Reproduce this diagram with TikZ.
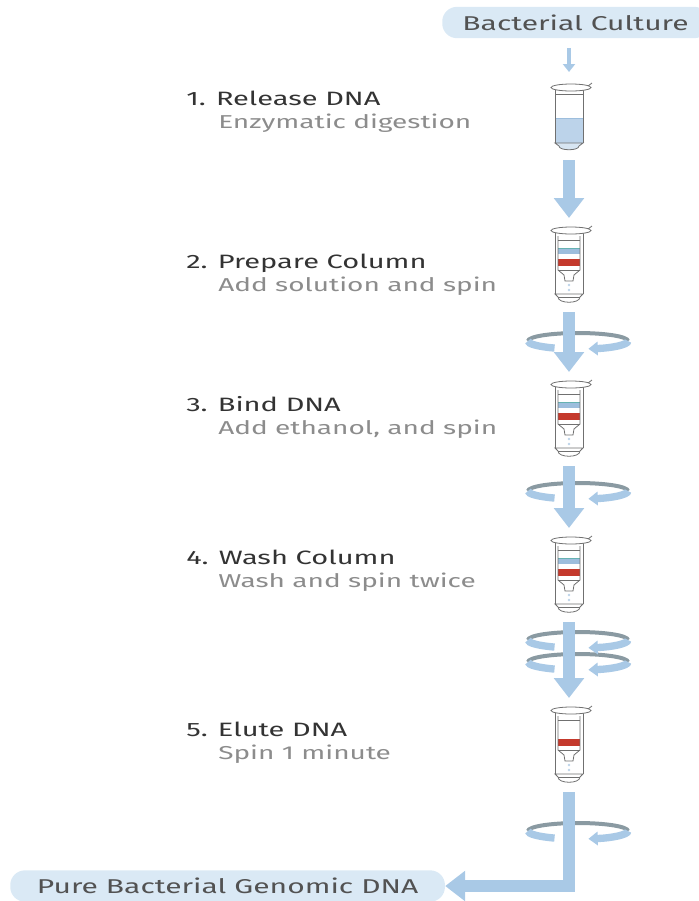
\documentclass[tikz,border=0pt]{standalone}
\usepackage{fontspec}
\setmainfont{Fira Sans}[FakeStretch=1.5]
\usepackage{tikz}
\usetikzlibrary{arrows.meta,positioning,calc}
\definecolor{flowblue}{HTML}{A9C9E6}
\definecolor{pillblue}{HTML}{DAE9F5}
\definecolor{ringgray}{HTML}{8A9AA2}
\definecolor{headgray}{HTML}{333333}
\definecolor{subgray}{HTML}{8C8C8C}
\definecolor{tubegray}{HTML}{707070}
\definecolor{bandred}{HTML}{C4392C}
\definecolor{bandblue}{HTML}{9DBEDD}
\definecolor{lysate}{HTML}{BCD3EA}

\begin{document}
\begin{tikzpicture}[x=0.75pt,y=-0.75pt,
  head/.style={font=\fontsize{14.5}{16}\selectfont,text=headgray,inner sep=0pt,anchor=base west},
  sub/.style={font=\fontsize{14}{16}\selectfont,text=subgray,inner sep=0pt,anchor=base west},
  pill/.style={fill=pillblue,rounded corners=11pt,minimum height=23.5pt,inner sep=0pt,font=\fontsize{15}{17}\selectfont,text=headgray!85},
  flow/.style={draw=flowblue,line width=9pt,-{Triangle[length=15pt,width=22pt]}},
  thinflow/.style={draw=flowblue,line width=3pt,-{Triangle[length=6pt,width=9pt]}},
  ringback/.style={draw=ringgray,line width=3pt},
  ringfront/.style={draw=flowblue,line width=5.5pt},
  tubeline/.style={draw=tubegray,line width=0.6pt},
  % tube with the lysate
  pics/lysetube/.style={code={
    \coordinate (-top) at (0,-13);
    \coordinate (-bot) at (0,75);
    \fill[white] (-14,5) rectangle (14,58);
    \fill[lysate] (-14,33) rectangle (14,58);
    \draw[bandblue] (-14,33) -- (14,33);
    \draw[tubeline] (-14,5) -- (-14,58) (14,5) -- (14,58) (-14,9) -- (14,9);
    \draw[tubeline,fill=lysate!60] (-14,58) -- (-10,61) .. controls (-10,66) and (10,66) .. (10,61) -- (14,58) -- cycle;
    \draw[tubeline,fill=white] (2,2.5) ellipse[x radius=20,y radius=3.5];
    \draw[tubeline] (19,1) -- (23,-2);
  }},
  % spin column in its collection tube, #1 = opacity of the upper band
  pics/coltube/.style={code={
    \coordinate (-top) at (0,-10);
    \coordinate (-bot) at (0,84);
    \fill[white] (-14,5) rectangle (14,66);
    \draw[tubeline] (-14,5) -- (-14,66) (14,5) -- (14,66);
    \draw[tubeline,fill=white] (-14,66) -- (-11,69) .. controls (-11,76) and (11,76) .. (11,69) -- (14,66) -- cycle;
    \draw[tubeline] (-11,69) -- (11,69);
    \fill[bandblue,opacity=#1] (-11,20) rectangle (11,26);
    \draw[teal!60,opacity=#1] (-11,20) -- (11,20);
    \fill[bandred] (-11,31) rectangle (11,38);
    \draw[tubeline] (-11,8) -- (-11,42) -- (-5,47) -- (-4,53) -- (4,53) -- (5,47) -- (11,42) -- (11,8);
    \draw[tubeline] (-11,42) -- (11,42) (-11,12) -- (11,12);
    \fill[lysate] (0,57) circle[radius=1.3] (0,62) circle[radius=1.3];
    \draw[tubeline,fill=white] (2,2.5) ellipse[x radius=20,y radius=3.5];
    \draw[tubeline] (19,1) -- (23,-2);
  }}]
  \useasboundingbox (0,0) rectangle (699,901);
  \clip (0,0) rectangle (699,901);

  \node[pill,anchor=west,minimum width=200pt] (culture) at (442,22.5) {Bacterial Culture};
  \node[pill,anchor=west,minimum width=326pt] (gdna) at (10,886) {Pure Bacterial Genomic DNA};

  \pic (t1) at (569,85) {lysetube};
  \pic (t2) at (569,228) {coltube=1};
  \pic (t3) at (569,382) {coltube=1};
  \pic (t4) at (569,538) {coltube=1};
  \pic (t5) at (569,708) {coltube=0};

  \foreach \n/\y/\h/\d in {1/105/{1. Release DNA}/{Enzymatic digestion},
      2/268/{2. Prepare Column}/{Add solution and spin},
      3/411/{3. Bind DNA}/{Add ethanol, and spin},
      4/564/{4. Wash Column}/{Wash and spin twice},
      5/736/{5. Elute DNA}/{Spin 1 minute}} {
    \node[head] (h\n) at (186,\y) {\h};
    \node[sub] (d\n) at (218,\y+23) {\d};
  }

  % spin rings: back half first, then the flow, then the front
  \coordinate (r2) at (578,341);
  \coordinate (r3) at (578,491);
  \coordinate (r4a) at (578,640);
  \coordinate (r4b) at (578,662);
  \coordinate (r5) at (578,831);
  \foreach \r in {r2,r3,r4a,r4b,r5}
    \draw[ringback] ($(\r)+(-50,0)$) arc[start angle=180,end angle=360,x radius=50,y radius=8];

  \draw[thinflow,shorten <=7pt] (culture.south -| t1-top) -- (t1-top);
  \draw[flow] (t1-bot) -- (t2-top);
  \draw[flow] (t2-bot) -- (t3-top);
  \draw[flow] (t3-bot) -- (t4-top);
  \draw[flow] (t4-bot) -- (t5-top);
  \draw[flow] (t5-bot) |- (gdna.east);

  \foreach \r in {r2,r3,r4a,r4b,r5} {
    \draw[ringfront] ($(\r)+(-50,0)$) arc[start angle=180,end angle=118,x radius=50,y radius=8];
    \draw[ringfront,-{Triangle[length=7pt,width=10pt]}] ($(\r)+(50,0)$) arc[start angle=0,end angle=78,x radius=50,y radius=8];
  }
\end{tikzpicture}
\end{document}
